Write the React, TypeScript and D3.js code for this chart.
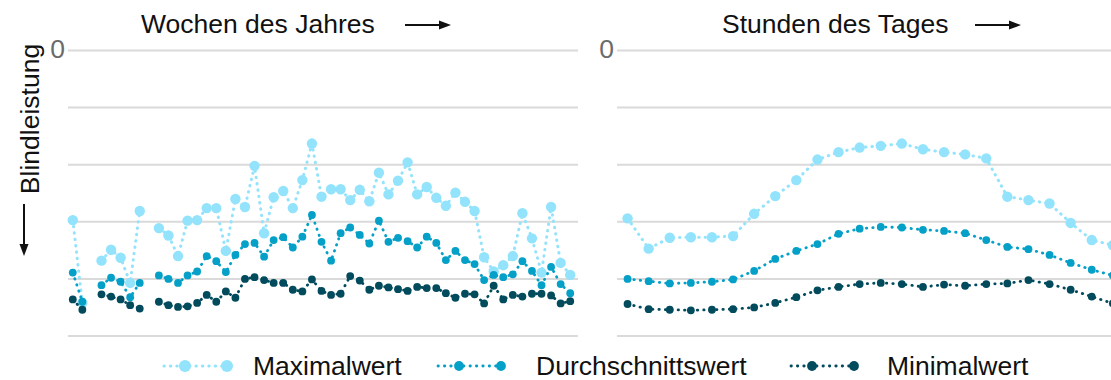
import React from "react";
import * as d3 from "d3";

const weeks = [1,2,3,4,5,6,7,8,9,10,11,12,13,14,15,16,17,18,19,20,21,22,23,24,25,26,27,28,29,30,31,32,33,34,35,36,37,38,39,40,41,42,43,44,45,46,47,48,49,50,51,52,53];
const hours = [0,1,2,3,4,5,6,7,8,9,10,11,12,13,14,15,16,17,18,19,20,21,22,23];

const weekMax: (number | null)[] = [29.7,44.2,null,36.8,34.9,36.3,40.7,28.1,null,31.1,32.4,36.0,29.8,29.7,27.6,27.6,35.1,26.0,27.4,20.2,32.0,25.7,24.6,27.6,22.7,16.3,25.6,24.3,24.3,26.2,24.4,26.4,21.4,25.2,22.8,19.6,25.2,23.9,25.8,27.2,24.9,26.5,28.1,36.2,38.7,37.6,36.0,28.5,32.9,38.9,27.4,37.2,39.3];
const weekMean: (number | null)[] = [38.9,44.0,null,41.1,39.8,40.5,43.2,40.7,null,39.4,40.0,40.7,39.4,38.7,36.0,36.9,38.8,35.8,33.9,33.7,36.1,33.2,32.7,34.5,32.6,28.8,33.5,36.8,32.0,31.0,32.3,33.8,29.8,33.5,32.8,33.4,34.5,32.6,33.7,36.7,35.1,36.7,37.4,40.2,39.3,39.7,39.2,36.9,38.6,41.1,37.9,40.9,42.5];
const weekMin: (number | null)[] = [43.6,45.4,null,42.7,43.1,43.6,44.6,45.2,null,44.0,44.6,44.9,44.8,44.2,42.8,44.0,42.2,43.3,40.0,39.7,40.2,40.7,40.7,41.9,42.2,40.1,42.1,42.8,42.6,39.5,40.3,41.9,41.2,41.5,41.8,42.1,41.4,41.6,41.6,42.5,43.3,42.6,42.7,44.3,41.2,43.6,42.8,43.1,42.6,42.6,42.9,44.3,43.9];

const hourMax = [29.4,34.7,32.8,32.7,32.7,32.5,28.6,25.5,22.7,19.1,17.8,17.0,16.7,16.3,17.3,17.8,18.2,18.9,25.6,26.2,26.8,30.2,33.2,34.1];
const hourMean = [40.0,40.4,40.8,40.7,40.5,40.1,38.6,36.5,35.1,33.9,32.1,31.2,30.9,31.0,31.4,31.6,32.0,33.2,34.4,34.8,35.8,37.2,38.4,39.4];
const hourMin = [44.4,45.3,45.4,45.5,45.4,45.3,45.0,44.2,43.2,42.0,41.4,40.9,40.7,40.9,41.4,41.0,41.2,40.9,40.8,40.2,40.9,41.9,43.1,44.3];

const yTicks = [0, 10, 20, 30, 40, 50];
const seriesNames = ["Maximalwert", "Durchschnittswert", "Minimalwert"];
const seriesColors = ["#92e3fb", "#05a0c8", "#014b5d"];
const seriesRadius = [5.2, 3.9, 3.9];
const seriesStroke = [3, 2.8, 2.8];
const panelTitles = ["Wochen des Jahres", "Stunden des Tages"];
const yLabel = "Blindleistung";
const FONT = "'Liberation Sans', Arial, sans-serif";
const FS = 26.5;

const W = 1111;
const H = 380;

function Panel({ cats, data, x0, x1, gridEnd, title, titleX, arrowX }: any) {
  const x = d3.scaleBand<number>().domain(cats).range([x0, x1]);
  const cx = (c: number) => (x(c) as number) + x.bandwidth() / 2;
  const y = d3.scaleLinear().domain([0, 50]).range([50.5, 336]);
  return (
    <g>
      {yTicks.map((t) => (
        <line key={t} x1={x0} x2={gridEnd} y1={y(t)} y2={y(t)} stroke="#dadada" strokeWidth={2} />
      ))}
      <text x={x0 - 3} y={y(0) - 2} textAnchor="end" dominantBaseline="central" fontSize={FS} fill="#6b6b6b" fontFamily={FONT}>
        {yTicks[0]}
      </text>
      <text x={titleX} y={33} fontSize={FS} fill="#111" fontFamily={FONT}>{title}</text>
      <line x1={arrowX} x2={arrowX + 38} y1={25} y2={25} stroke="#111" strokeWidth={2} />
      <path d={`M${arrowX + 46},25 L${arrowX + 34},20.5 L${arrowX + 34},29.5 Z`} fill="#111" />
      {data.map((vals: (number | null)[], si: number) => {
        const pts = cats.map((c: number, i: number) => ({ c, v: vals[i] }));
        const line = d3
          .line<any>()
          .defined((d) => d.v != null)
          .x((d) => cx(d.c))
          .y((d) => y(d.v));
        return (
          <g key={si}>
            <path
              d={line(pts) || ""}
              fill="none"
              stroke={seriesColors[si]}
              strokeWidth={seriesStroke[si]}
              strokeDasharray="0.4 6"
              strokeLinecap="round"
            />
            {pts
              .filter((d: any) => d.v != null)
              .map((d: any) => (
                <circle key={d.c} cx={cx(d.c)} cy={y(d.v)} r={seriesRadius[si]} fill={seriesColors[si]} />
              ))}
          </g>
        );
      })}
    </g>
  );
}

export default function App() {
  const legendStart = [164, 438, 791];
  const legendText = [253, 536, 887];
  const ly = 366;
  return (
    <svg width={W} height={H} style={{ position: "absolute", left: 0, top: 0, background: "#fff" }}>
      <defs>
        <clipPath id="clipAll">
          <rect x={0} y={0} width={W} height={H} />
        </clipPath>
      </defs>
      <g clipPath="url(#clipAll)">
        <Panel cats={weeks} data={[weekMax, weekMean, weekMin]} x0={68} x1={575} gridEnd={578}
          title={panelTitles[0]} titleX={141} arrowX={405} />
        <Panel cats={hours} data={[hourMax, hourMean, hourMin]} x0={617} x1={1123.4} gridEnd={1123}
          title={panelTitles[1]} titleX={722} arrowX={975} />
      </g>
      <text transform="translate(39,119) rotate(-90)" textAnchor="middle" fontSize={FS} fill="#111" fontFamily={FONT}>
        {yLabel}
      </text>
      <line x1={24} x2={24} y1={204} y2={248} stroke="#111" strokeWidth={2} />
      <path d="M24,256 L19.5,244 L28.5,244 Z" fill="#111" />
      {seriesNames.map((name, i) => {
        const s = legendStart[i];
        const r = seriesRadius[i] + (i === 0 ? 0.8 : 1);
        return (
          <g key={name}>
            <line x1={s} x2={s + 66} y1={ly} y2={ly} stroke={seriesColors[i]} strokeWidth={seriesStroke[i]}
              strokeDasharray="0.4 6" strokeLinecap="round" />
            <circle cx={s + 21} cy={ly} r={r} fill={seriesColors[i]} />
            <circle cx={s + 63} cy={ly} r={r} fill={seriesColors[i]} />
            <text x={legendText[i]} y={ly + 8.5} fontSize={FS} fill="#111" fontFamily={FONT}>{name}</text>
          </g>
        );
      })}
    </svg>
  );
}
